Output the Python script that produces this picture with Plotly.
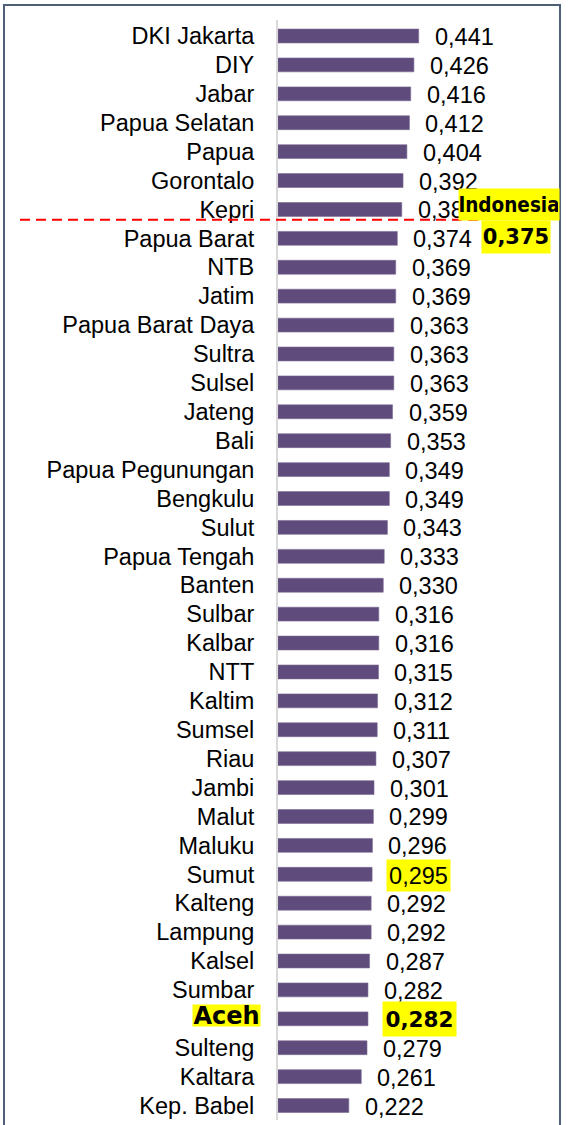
import plotly.graph_objects as go

provinces = ["DKI Jakarta", "DIY", "Jabar", "Papua Selatan", "Papua", "Gorontalo", "Kepri",
             "Papua Barat", "NTB", "Jatim", "Papua Barat Daya", "Sultra", "Sulsel", "Jateng",
             "Bali", "Papua Pegunungan", "Bengkulu", "Sulut", "Papua Tengah", "Banten",
             "Sulbar", "Kalbar", "NTT", "Kaltim", "Sumsel", "Riau", "Jambi", "Malut", "Maluku",
             "Sumut", "Kalteng", "Lampung", "Kalsel", "Sumbar", "Aceh", "Sulteng", "Kaltara",
             "Kep. Babel"]
values = [0.441, 0.426, 0.416, 0.412, 0.404, 0.392, 0.388,
          0.374, 0.369, 0.369, 0.363, 0.363, 0.363, 0.359,
          0.353, 0.349, 0.349, 0.343, 0.333, 0.330,
          0.316, 0.316, 0.315, 0.312, 0.311, 0.307, 0.301, 0.299, 0.296,
          0.295, 0.292, 0.292, 0.287, 0.282, 0.282, 0.279, 0.261,
          0.222]
national_label = "Indonesia"
national_value = 0.375
bold_province = "Aceh"
marked_values = {"Sumut": False, "Aceh": True}

BAR = "#5F4B7C"
YEL = "#FFFF00"
FONT = "Liberation Sans, Arial, sans-serif"
BOLDFONT = "DejaVu Sans, sans-serif"
CONDFONT = "DejaVu Sans Condensed, DejaVu Sans, sans-serif"

def fmt(v):
    return f"{v:.3f}".replace(".", ",")

ticktext = ["" if p == bold_province else p for p in provinces]

fig = go.Figure(go.Bar(
    x=values, y=provinces, orientation="h",
    marker=dict(color=BAR, line=dict(color="#7a6a92", width=0.6)),
    hoverinfo="skip",
))

ann = []
for p, v in zip(provinces, values):
    if p in marked_values:
        bold = marked_values[p]
        ann.append(dict(x=v, y=p, xref="x", yref="y", text=(f"<b>{fmt(v)}</b>" if bold else fmt(v)),
                        showarrow=False, xanchor="left", yanchor="middle",
                        xshift=14, yshift=(0 if bold else -1),
                        width=(71 if bold else 61), height=(32 if bold else 29),
                        bgcolor=YEL, borderpad=1,
                        font=dict(family=BOLDFONT if bold else FONT, size=21.5 if bold else 23.5,
                                  color="black")))
    else:
        ann.append(dict(x=v, y=p, xref="x", yref="y", text=fmt(v), showarrow=False,
                        xanchor="left", yanchor="middle", xshift=14, yshift=-1,
                        font=dict(family=FONT, size=23.5, color="black")))

ann.append(dict(x=0, y=bold_province, xref="paper", yref="y", text=f"<b>{bold_province}</b>",
                showarrow=False, xanchor="right", yanchor="middle", xshift=-17, yshift=3,
                width=67, height=21, borderpad=0, bgcolor=YEL,
                font=dict(family=BOLDFONT, size=24, color="black")))
ann.append(dict(x=1.0, y=6.0, xref="paper", yref="y", text=f"<b>{national_label}</b>",
                showarrow=False, xanchor="right", yanchor="middle", yshift=5,
                width=98, height=29, borderpad=1, bgcolor=YEL,
                font=dict(family=CONDFONT, size=20.5, color="black")))
ann.append(dict(x=(551 - 278) / 282, y=7.0, xref="paper", yref="y",
                text=f"<b>{fmt(national_value)}</b>",
                showarrow=False, xanchor="right", yanchor="middle", yshift=1,
                width=66, height=30, borderpad=1, bgcolor=YEL,
                font=dict(family=BOLDFONT, size=21, color="black")))

frame_left = (4 - 278) / 282
frame_right = (560 - 278) / 282
frame_top = (20 - 4) / 1100 + 1.0
frame_top2 = (20 - 6) / 1100 + 1.0
shapes = [
    # outer border of the chart frame
    dict(type="line", xref="paper", yref="paper", x0=frame_left, x1=frame_left,
         y0=-0.2, y1=frame_top, line=dict(color="#4F5F75", width=2), layer="above"),
    dict(type="line", xref="paper", yref="paper", x0=frame_right, x1=frame_right,
         y0=-0.2, y1=frame_top, line=dict(color="#4F5F75", width=2), layer="above"),
    dict(type="rect", xref="paper", yref="paper", x0=frame_left, x1=frame_right,
         y0=frame_top2, y1=frame_top, line=dict(width=0), fillcolor="#4F5F75", layer="above"),
    # national average line
    dict(type="line", xref="paper", yref="y", x0=(20 - 278) / 282, x1=(478 - 278) / 282,
         y0=6.36, y1=6.36, line=dict(color="#FF0000", width=2, dash="10px,6px"), layer="above"),
]

fig.update_layout(
    width=571, height=1125,
    margin=dict(l=278, r=11, t=20, b=5),
    paper_bgcolor="white", plot_bgcolor="white",
    showlegend=False,
    bargap=0.52,
    xaxis=dict(range=[0, 0.884], visible=False, fixedrange=True),
    yaxis=dict(categoryorder="array", categoryarray=provinces, autorange="reversed",
               tickmode="array", tickvals=provinces, ticktext=ticktext,
               ticks="outside", ticklen=17, tickcolor="rgba(0,0,0,0)",
               showline=True, linecolor="#D9D9D9", linewidth=2,
               showgrid=False, zeroline=False,
               tickfont=dict(family=FONT, size=23.5, color="black"), fixedrange=True),
    annotations=ann,
    shapes=shapes,
)

fig.write_html("out.html", config={"displayModeBar": False},
               post_script="document.body.style.margin='0';document.body.style.overflow='hidden';")
